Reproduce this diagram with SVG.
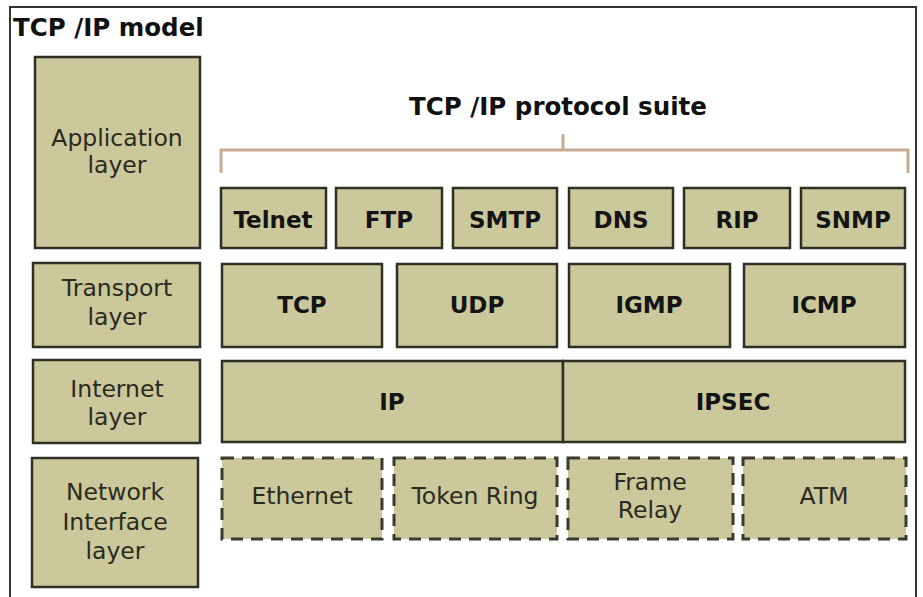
<svg xmlns="http://www.w3.org/2000/svg" width="923" height="597" viewBox="0 0 923 597">
<style>
.box{fill:#cbc89b;stroke:#2f2f26;stroke-width:2.5}
.dash{fill:#cbc89b;stroke:#3a3a30;stroke-width:3;stroke-dasharray:12 8}
.lab{font-family:"DejaVu Sans",Verdana,sans-serif;font-size:23.5px;fill:#2a2a20;text-anchor:middle}
.bl{font-family:"DejaVu Sans",Verdana,sans-serif;font-size:23px;font-weight:bold;fill:#141414;text-anchor:middle}
.ttl{font-family:"DejaVu Sans",Verdana,sans-serif;font-size:24.5px;font-weight:bold;fill:#111}
.br{fill:none;stroke:#c9ab94;stroke-width:3}
</style>
<rect x="0" y="0" width="923" height="597" fill="#fff"/>
<path d="M10,600 V7 H916 V600" fill="none" stroke="#333" stroke-width="2"/>
<text class="ttl" x="13" y="36">TCP /IP model</text>
<g id="suite-title">
<text class="ttl" x="558" y="115" text-anchor="middle">TCP /IP protocol suite</text>
</g>
<g id="connectors">
<path class="br" d="M221,173 V150 H908 V173 M563,134 V150"/>
</g>
<g id="application-layer"><rect class="box" x="35" y="57" width="165" height="191"/><text class="lab" x="117" y="146">Application</text><text class="lab" x="117" y="173">layer</text></g>
<g id="transport-layer"><rect class="box" x="33" y="263" width="167" height="84"/><text class="lab" x="117" y="296">Transport</text><text class="lab" x="117" y="325">layer</text></g>
<g id="internet-layer"><rect class="box" x="33" y="360" width="167" height="83"/><text class="lab" x="117" y="397">Internet</text><text class="lab" x="117" y="425">layer</text></g>
<g id="network-interface-layer"><rect class="box" x="32" y="458" width="166" height="129"/><text class="lab" x="115" y="500">Network</text><text class="lab" x="115" y="530">Interface</text><text class="lab" x="115" y="559">layer</text></g>

<g id="telnet"><rect class="box" x="221" y="188" width="105" height="60"/><text class="bl" x="273" y="228">Telnet</text></g>
<g id="ftp"><rect class="box" x="336" y="188" width="106" height="60"/><text class="bl" x="389" y="228">FTP</text></g>
<g id="smtp"><rect class="box" x="453" y="188" width="104" height="60"/><text class="bl" x="505" y="228">SMTP</text></g>
<g id="dns"><rect class="box" x="569" y="188" width="104" height="60"/><text class="bl" x="621" y="228">DNS</text></g>
<g id="rip"><rect class="box" x="684" y="188" width="106" height="60"/><text class="bl" x="737" y="228">RIP</text></g>
<g id="snmp"><rect class="box" x="801" y="188" width="104" height="60"/><text class="bl" x="853" y="228">SNMP</text></g>

<g id="tcp"><rect class="box" x="222" y="264" width="160" height="83"/><text class="bl" x="302" y="313">TCP</text></g>
<g id="udp"><rect class="box" x="397" y="264" width="160" height="83"/><text class="bl" x="477" y="313">UDP</text></g>
<g id="igmp"><rect class="box" x="569" y="264" width="161" height="83"/><text class="bl" x="649" y="313">IGMP</text></g>
<g id="icmp"><rect class="box" x="744" y="264" width="161" height="83"/><text class="bl" x="824" y="313">ICMP</text></g>

<g id="ip"><rect class="box" x="222" y="361" width="341" height="81"/><text class="bl" x="392" y="410">IP</text></g>
<g id="ipsec"><rect class="box" x="563" y="361" width="342" height="81"/><text class="bl" x="733" y="410">IPSEC</text></g>

<g id="ethernet"><rect class="dash" x="222" y="458" width="160" height="81"/><text class="lab" x="302" y="504">Ethernet</text></g>
<g id="token-ring"><rect class="dash" x="394" y="458" width="163" height="81"/><text class="lab" x="475" y="504">Token Ring</text></g>
<g id="frame-relay"><rect class="dash" x="568" y="458" width="165" height="81"/><text class="lab" x="650" y="490">Frame</text><text class="lab" x="650" y="518">Relay</text></g>
<g id="atm"><rect class="dash" x="743" y="458" width="163" height="81"/><text class="lab" x="824" y="504">ATM</text></g>
</svg>
